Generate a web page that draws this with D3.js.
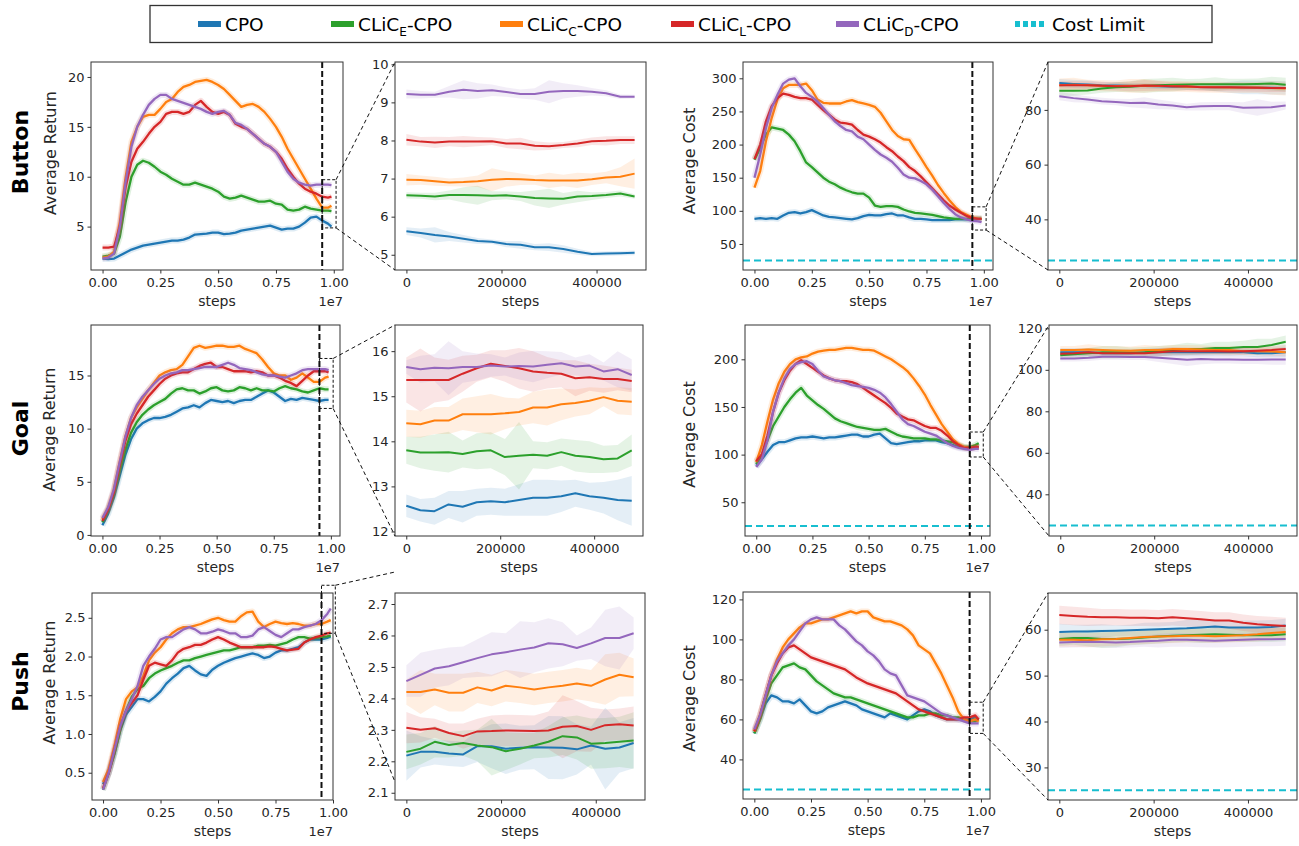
<!DOCTYPE html>
<html>
<head>
<script src="https://cdnjs.cloudflare.com/ajax/libs/d3/7.8.5/d3.min.js"></script>
<style>
  body { margin: 0; background: #fff; }
  text { font-family: "DejaVu Sans", sans-serif; fill: #262626; }
</style>
</head>
<body>
<svg id="chart" width="1299" height="846"></svg>
<script>
// 系列名と色
const seriesNames = ["CPO", "CLiC_E-CPO", "CLiC_C-CPO", "CLiC_L-CPO", "CLiC_D-CPO"];
const seriesColors = ["#1f77b4", "#2ca02c", "#ff7f0e", "#d62728", "#9467bd"];
const limitColor = "#17becf";
const costLimit = 25;

// x 軸 (全体: ×1e7, 拡大: steps)
const mainSteps = [0,0.025,0.05,0.075,0.1,0.125,0.15,0.175,0.2,0.225,0.25,0.275,0.3,0.325,0.35,0.375,0.4,0.425,0.45,0.475,0.5,0.525,0.55,0.575,0.6,0.625,0.65,0.675,0.7,0.725,0.75,0.775,0.8,0.825,0.85,0.875,0.9,0.925,0.95,0.975,0.99];
const zoomSteps = [0,30000,60000,90000,120000,150000,180000,210000,240000,270000,300000,330000,360000,390000,420000,450000,480000];
const mainXTicks = [0, 0.25, 0.5, 0.75, 1.0];
const zoomXTicks = [0, 200000, 400000];

// 順序: CPO, E, C, L, D
const buttonReturnMain = [
  [1.8,1.75,1.8,2.1,2.4,2.7,2.9,3.1,3.2,3.3,3.4,3.5,3.6,3.6,3.7,3.9,4.2,4.25,4.3,4.4,4.4,4.25,4.3,4.4,4.6,4.7,4.8,4.9,5.0,5.1,4.9,4.7,4.8,4.8,5.0,5.4,5.9,6.0,5.6,5.3,5.0],
  [2.0,2.1,2.3,4.0,7.5,10.0,11.2,11.6,11.4,11.0,10.5,10.2,9.8,9.5,9.2,9.2,9.4,9.2,9.0,8.8,8.5,8.0,7.8,7.9,8.1,7.9,7.7,7.5,7.5,7.6,7.3,7.2,6.7,6.6,6.7,7.0,6.8,6.7,6.6,6.6,6.55],
  [1.9,2.0,2.5,5.5,10.0,13.5,15.0,16.0,16.2,16.2,16.8,17.5,17.8,18.5,19.0,19.2,19.5,19.6,19.7,19.5,19.2,18.8,18.2,17.6,17.0,17.2,17.3,17.0,16.5,15.8,15.0,14.0,12.8,11.8,10.8,9.8,8.8,7.8,6.9,6.9,7.1],
  [2.9,2.9,3.0,5.0,9.0,11.5,12.8,13.5,14.3,15.0,15.5,16.3,16.5,16.5,16.3,16.5,17.2,17.6,17.0,16.5,16.3,16.5,16.2,15.3,15.0,14.8,14.3,13.8,13.3,13.0,12.5,11.8,10.8,10.0,9.3,8.8,8.5,8.3,8.0,7.9,8.0],
  [1.8,1.9,2.3,5.0,9.5,13.0,15.0,16.2,17.2,17.8,18.2,18.2,17.8,17.6,17.4,17.2,17.0,16.8,16.5,16.3,16.5,16.6,16.2,15.4,15.2,14.8,14.3,13.8,13.3,13.0,12.5,11.5,10.5,9.8,9.4,9.2,9.1,9.2,9.2,9.2,9.15]
];
const buttonReturnZoom = [
  [5.62,5.57,5.52,5.48,5.42,5.36,5.34,5.28,5.26,5.20,5.20,5.15,5.08,5.02,5.03,5.04,5.05],
  [6.56,6.55,6.53,6.57,6.57,6.56,6.55,6.56,6.53,6.49,6.48,6.47,6.53,6.54,6.57,6.61,6.53],
  [6.97,6.96,6.93,6.90,6.91,6.93,6.97,6.99,6.98,6.96,6.95,6.95,6.95,6.98,7.03,7.05,7.13],
  [8.02,7.97,7.95,7.97,7.97,7.97,7.98,7.92,7.92,7.86,7.85,7.88,7.92,7.98,7.99,8.01,8.01],
  [9.22,9.20,9.20,9.28,9.33,9.30,9.32,9.27,9.22,9.22,9.28,9.30,9.30,9.28,9.24,9.15,9.15]
];
const buttonReturnBand = [
  [0.1,0.12,0.2,0.12,0.1,0.08,0.06,0.08,0.1,0.08,0.1,0.1,0.08,0.06,0.06,0.06,0.06],
  [0.08,0.08,0.1,0.12,0.2,0.25,0.12,0.1,0.12,0.2,0.25,0.15,0.15,0.1,0.08,0.08,0.06],
  [0.15,0.12,0.12,0.1,0.12,0.15,0.3,0.2,0.15,0.12,0.2,0.15,0.2,0.15,0.15,0.25,0.4],
  [0.15,0.12,0.15,0.12,0.15,0.12,0.1,0.12,0.15,0.12,0.1,0.08,0.1,0.1,0.12,0.1,0.1],
  [0.12,0.1,0.08,0.15,0.25,0.2,0.15,0.12,0.12,0.15,0.3,0.2,0.15,0.1,0.08,0.06,0.05]
];
const buttonCostMain = [
  [88,89,88,89,88,93,97,98,96,98,101,97,93,91,90,89,88,87,89,92,94,93,93,95,96,93,93,90,88,88,87,86,86,86,86,87,87,87,87,88,88],
  [177,195,215,226,224,222,215,205,190,173,166,158,150,144,140,135,131,128,126,126,120,108,106,107,107,106,102,99,97,96,95,94,92,90,89,88,88,88,88,88,88],
  [135,160,205,240,268,285,290,290,290,292,282,268,263,262,262,262,265,267,264,262,260,257,248,235,222,213,208,207,193,180,166,153,139,127,116,106,98,94,90,88,88],
  [178,200,235,258,270,277,275,272,270,270,268,260,252,245,238,233,232,230,222,215,212,208,203,196,190,182,175,166,160,152,143,134,125,116,108,102,97,92,89,88,88],
  [150,185,225,255,275,292,298,300,288,278,272,265,255,245,235,228,222,220,212,208,200,192,185,180,174,165,155,150,149,145,140,132,122,112,103,95,90,87,85,84,83]
];
const buttonCostZoom = [
  [89.8,89.5,89.3,89.0,88.9,88.8,88.7,88.6,88.5,88.4,88.4,88.3,88.3,88.2,88.2,88.1,88.0],
  [87.0,87.0,87.1,87.8,88.3,88.5,88.8,89.0,89.2,89.3,89.4,89.4,89.4,89.4,89.5,89.6,89.2],
  [89.0,89.2,89.0,88.8,88.7,88.8,88.8,88.7,88.6,88.5,88.4,88.3,88.2,88.2,88.2,88.0,87.8],
  [89.0,89.0,89.0,88.8,88.6,88.6,88.9,88.8,88.6,88.6,88.3,88.3,88.3,88.2,88.1,88.0,88.0],
  [85.0,84.3,83.8,83.2,82.9,82.5,82.6,82.0,81.6,81.0,81.3,81.4,81.4,80.8,80.9,81.0,81.6]
];
const buttonCostBand = [
  [1.5,1.5,1.5,1.2,1.2,1,1,1,1,1,1.2,1.5,2,2.5,2.5,2.5,2.5],
  [2,1.8,1.5,1.5,1.8,2,2.5,2.5,2.5,2,2,2.5,2,2,2,2.5,2.5],
  [2.5,2.5,2,2,2,2.5,2.5,2,2,2,2,2,2,2,2,2.5,2.5],
  [1.5,1.5,1.5,1.5,1.5,1.8,2,1.8,1.5,1.5,1.5,1.5,1.5,1.5,1.5,1.5,1.5],
  [1.5,1.5,1.2,1.2,1.2,1.5,2,1.8,1.5,1.2,1.5,1.5,1.5,2,3,2,1.5]
];
const goalReturnMain = [
  [0.9,2.0,3.5,5.5,7.5,9.0,10.0,10.5,10.8,11.0,11.0,11.1,11.3,11.6,11.9,12.0,12.2,12.0,12.4,12.7,12.6,12.5,12.6,12.4,12.6,12.7,12.7,13.0,13.3,13.6,13.4,13.0,12.6,12.8,12.7,12.9,12.8,12.7,12.6,12.7,12.7],
  [1.2,2.3,3.8,6.0,8.0,9.6,10.6,11.3,11.8,12.2,12.5,12.8,13.3,13.7,13.8,13.6,13.6,13.3,13.5,13.8,13.9,13.6,13.5,13.6,13.9,13.8,13.6,13.8,13.6,13.6,13.5,13.8,14.0,13.8,13.7,13.5,13.4,13.6,13.8,13.7,13.7],
  [1.5,2.5,4.2,6.8,9.2,11.0,12.0,12.8,13.6,14.3,15.0,15.3,15.5,15.6,16.0,16.8,17.6,17.8,17.6,17.7,17.8,17.8,17.7,17.7,17.8,17.5,17.3,17.1,16.5,15.8,15.2,15.0,15.0,14.6,14.8,15.2,14.8,14.4,14.4,14.8,14.9],
  [1.3,2.4,4.0,6.5,8.8,10.4,11.4,12.2,13.0,13.6,14.2,14.7,15.0,15.2,15.3,15.3,15.6,15.9,16.1,16.2,15.8,15.8,15.6,15.4,15.4,15.4,15.3,15.4,15.3,15.0,15.0,14.8,14.5,14.3,14.0,14.5,15.0,15.4,15.4,15.4,15.3],
  [1.6,2.6,4.3,6.8,9.2,11.0,12.2,13.0,13.6,14.2,14.7,15.0,15.2,15.3,15.5,15.5,15.6,15.7,15.8,15.8,15.8,16.0,16.2,16.0,15.7,15.6,15.5,15.3,15.1,15.0,15.0,14.9,14.8,15.0,15.2,15.5,15.6,15.6,15.6,15.6,15.5]
];
const goalReturnZoom = [
  [12.57,12.47,12.45,12.60,12.55,12.65,12.67,12.65,12.70,12.75,12.75,12.78,12.85,12.78,12.75,12.70,12.68],
  [13.80,13.75,13.75,13.76,13.72,13.78,13.80,13.65,13.68,13.70,13.68,13.76,13.68,13.65,13.60,13.62,13.80],
  [14.40,14.38,14.46,14.46,14.60,14.60,14.60,14.62,14.65,14.75,14.75,14.82,14.85,14.90,14.98,14.90,14.88],
  [15.36,15.36,15.36,15.36,15.50,15.62,15.72,15.67,15.62,15.55,15.52,15.50,15.40,15.42,15.38,15.38,15.34],
  [15.65,15.60,15.63,15.62,15.65,15.65,15.68,15.66,15.67,15.66,15.70,15.73,15.66,15.68,15.55,15.60,15.47]
];
const goalReturnBand = [
  [0.25,0.25,0.3,0.3,0.35,0.3,0.3,0.3,0.35,0.4,0.4,0.35,0.3,0.3,0.35,0.45,0.55],
  [0.3,0.35,0.4,0.45,0.3,0.4,0.4,0.4,0.75,0.3,0.3,0.3,0.35,0.35,0.3,0.3,0.35],
  [0.3,0.3,0.3,0.3,0.35,0.4,0.45,0.35,0.3,0.35,0.4,0.35,0.3,0.3,0.2,0.3,0.3],
  [0.5,0.7,0.5,0.45,0.4,0.3,0.3,0.35,0.45,0.45,0.35,0.3,0.4,0.3,0.3,0.25,0.25],
  [0.15,0.3,0.3,0.6,0.35,0.3,0.25,0.2,0.3,0.35,0.3,0.25,0.2,0.25,0.2,0.4,0.35]
];
const goalCostMain = [
  [88,95,103,110,113,113,115,117,118,118,119,118,117,118,118,119,120,121,121,119,119,121,122,117,112,111,112,113,114,114,115,115,115,113,112,110,108,107,107,108,108],
  [90,100,115,130,140,150,158,165,170,162,157,152,148,143,138,135,133,131,129,128,127,126,126,127,124,121,119,118,117,117,117,116,116,115,114,113,110,108,108,110,112],
  [92,110,135,158,175,187,195,200,202,203,206,208,209,210,210,211,212,212,211,210,210,209,206,203,200,196,192,187,180,172,163,152,142,132,124,116,111,108,107,108,108],
  [93,100,120,145,165,178,188,195,199,195,191,187,183,180,178,177,177,176,174,170,166,162,158,154,149,143,140,137,136,133,130,128,128,125,120,114,110,107,107,108,108],
  [87,95,115,145,165,180,190,195,197,198,195,188,182,180,178,177,175,173,172,171,170,168,165,160,153,145,137,132,130,127,124,122,120,116,112,109,107,106,105,106,106]
];
const goalCostZoom = [
  [108.5,108.5,108.5,108,108,108,108.3,108.5,108.5,108.5,108.5,108.5,108.5,108.5,108,108,108.5],
  [107,107.5,108,108.5,108.5,108.3,108.5,109,109.5,110,110,110.5,110.5,111,111,112,113.5],
  [109.5,109.5,109.8,109.5,109.3,109.2,109.5,109.5,110,110,109.8,109.5,109.5,109,109,108.8,108.5],
  [107.8,108,108.5,108,108,108,108,108.5,109,109,109,109,108.8,109,109.2,109.5,110],
  [105.5,105.5,105.8,106.3,106.3,106.2,106.2,105.8,105.3,104.8,105.2,105,105,104.8,104.8,105,105]
];
const goalCostBand = [
  [2,2,2,2,2,1.8,1.8,2,2,2,2,2,2,2,2,2,2.5],
  [2,2,2.5,3,3,2.5,2.5,2.5,2.5,3,2.5,3,3,3,4,3,3],
  [2,2,2.5,2,2,2,2.5,2,2,2,2,2,2,2,2,2,2],
  [1.5,1.5,1.8,1.5,1.5,1.8,1.8,2,2,1.8,1.8,1.8,1.8,1.8,1.8,1.8,2],
  [1.5,1.5,1.5,1.5,1.5,1.5,1.5,2,2.5,3,2.5,2,2,2,2,2.5,2.5]
];
const pushReturnMain = [
  [0.35,0.5,0.75,1.05,1.25,1.35,1.45,1.45,1.42,1.48,1.55,1.65,1.72,1.78,1.85,1.88,1.82,1.77,1.75,1.83,1.88,1.92,1.95,1.98,2.0,2.02,2.04,2.02,1.98,2.0,2.05,2.08,2.08,2.1,2.12,2.18,2.22,2.22,2.22,2.24,2.26],
  [0.28,0.5,0.75,1.05,1.3,1.48,1.58,1.62,1.72,1.78,1.82,1.85,1.88,1.92,1.95,1.95,1.98,2.0,2.02,2.04,2.06,2.08,2.08,2.1,2.12,2.12,2.12,2.14,2.14,2.15,2.14,2.16,2.18,2.22,2.25,2.25,2.23,2.24,2.25,2.26,2.27],
  [0.38,0.55,0.85,1.2,1.45,1.55,1.6,1.75,1.95,2.05,2.12,2.22,2.3,2.35,2.38,2.38,2.4,2.42,2.45,2.48,2.5,2.47,2.45,2.45,2.52,2.57,2.58,2.45,2.38,2.42,2.45,2.43,2.42,2.43,2.42,2.4,2.4,2.42,2.42,2.45,2.47],
  [0.3,0.5,0.8,1.1,1.3,1.4,1.5,1.7,1.88,1.92,1.9,1.88,1.95,2.05,2.1,2.12,2.15,2.15,2.18,2.22,2.25,2.22,2.18,2.15,2.12,2.12,2.12,2.12,2.12,2.13,2.12,2.1,2.08,2.09,2.1,2.18,2.22,2.25,2.27,2.3,2.31],
  [0.28,0.5,0.8,1.1,1.3,1.45,1.62,1.88,2.0,2.1,2.22,2.25,2.25,2.3,2.35,2.38,2.35,2.3,2.3,2.32,2.35,2.33,2.3,2.3,2.25,2.25,2.27,2.35,2.38,2.33,2.28,2.25,2.3,2.35,2.35,2.38,2.4,2.42,2.47,2.55,2.62]
];
const pushReturnZoom = [
  [2.218,2.23,2.23,2.225,2.222,2.248,2.248,2.24,2.243,2.245,2.244,2.243,2.238,2.25,2.24,2.244,2.258],
  [2.23,2.24,2.262,2.252,2.258,2.25,2.245,2.232,2.24,2.25,2.262,2.28,2.276,2.256,2.258,2.262,2.266],
  [2.42,2.42,2.428,2.418,2.418,2.435,2.425,2.44,2.435,2.428,2.435,2.44,2.447,2.44,2.46,2.475,2.467],
  [2.307,2.3,2.305,2.29,2.28,2.295,2.296,2.298,2.297,2.296,2.298,2.31,2.312,2.3,2.315,2.318,2.314],
  [2.455,2.475,2.495,2.502,2.515,2.528,2.54,2.547,2.555,2.562,2.575,2.572,2.56,2.575,2.592,2.592,2.607]
];
const pushReturnBand = [
  [0.08,0.05,0.04,0.04,0.04,0.05,0.07,0.08,0.07,0.07,0.1,0.1,0.08,0.06,0.13,0.08,0.08],
  [0.055,0.05,0.05,0.04,0.04,0.05,0.09,0.06,0.05,0.04,0.05,0.06,0.07,0.08,0.08,0.08,0.09],
  [0.04,0.07,0.05,0.06,0.06,0.05,0.05,0.05,0.05,0.05,0.05,0.05,0.05,0.05,0.08,0.07,0.06],
  [0.05,0.04,0.03,0.03,0.04,0.04,0.05,0.05,0.05,0.05,0.06,0.1,0.08,0.07,0.05,0.05,0.06],
  [0.05,0.07,0.06,0.06,0.05,0.06,0.07,0.06,0.09,0.08,0.08,0.07,0.04,0.05,0.09,0.1,0.05]
];
const pushCostMain = [
  [53,60,68,72,71,69,69,68,70,67,64,63,64,66,67,68,69,68,67,65,64,63,62,61,63,62,61,60,62,64,65,64,62,61,60,60,60,60,60,61,60],
  [53,60,70,78,82,86,87,88,86,85,82,79,77,75,73,72,71,71,70,69,68,67,66,65,64,63,62,61,61,62,62,63,63,62,62,61,61,60,59,59,60],
  [54,62,72,82,90,96,100,103,106,108,108,109,110,110,111,112,113,114,113,114,114,111,110,109,109,108,107,105,102,97,95,93,88,83,77,71,64,60,59,60,59],
  [54,62,72,82,88,93,96,97,95,93,91,90,89,88,87,86,85,83,81,79.5,78,77,76,75,74,73,71,69,67,65,64,63,62,61,60,60,60,61,61,62,60],
  [55,62,72,82,89,93,97,100,104,108,110,111,110,110,110,107,105,102,99,97,94,92,89,85,83,82,77,72,71,70,69,67,65,63,62,61,60,59,58,58,58]
];
const pushCostZoom = [
  [59.5,59.6,59.6,59.7,59.8,59.9,60.0,60.1,60.2,60.3,60.5,60.7,60.5,60.5,60.5,60.6,60.9],
  [58.0,58.2,58.2,58.0,58.0,58.1,58.3,58.5,58.7,58.8,58.9,59.0,58.9,58.8,58.8,58.8,59.0],
  [57.8,57.8,57.7,57.9,58.0,58.2,58.4,58.5,58.6,58.7,58.7,58.6,58.7,58.8,59.0,59.3,59.5],
  [63.2,63.0,62.8,62.7,62.7,62.6,62.6,62.5,62.7,62.5,62.3,62.0,62.0,61.5,61.2,61.0,60.8],
  [57.2,57.3,57.4,57.3,57.2,57.3,57.5,57.6,57.8,57.8,57.7,57.6,57.7,57.8,57.9,57.9,58.0]
];
const pushCostBand = [
  [1.8,1.5,1.5,1.5,1.2,1.2,1.5,1.5,1.5,1.8,1.8,1.5,1.5,1.5,1.5,1.5,1.5],
  [1.5,1.5,1.8,2,1.8,1.5,1.5,1.5,1.5,1.5,1.8,1.8,1.5,1.5,1.5,1.5,1.5],
  [1.5,1.5,1.5,1.5,1.5,1.5,1.5,1.5,1.5,1.5,1.5,1.5,1.5,1.5,1.5,1.5,1.5],
  [2,2,2,1.8,1.8,1.8,1.8,1.8,1.8,1.8,1.8,1.8,1.8,1.8,1.8,1.8,1.8],
  [1.2,1.2,1.2,1.2,1.2,1.2,1.2,1.5,1.5,1.5,1.5,1.5,1.5,1.5,1.5,1.5,1.5]
];

const rowNames = ["Button", "Goal", "Push"];

// パネル配置 [left, top, right, bottom]
const panels = [
  { values: buttonReturnMain, box: [91, 62, 343, 270], xd: [-0.05, 1.04], yd: [0.65, 21.5], yt: [5, 10, 15, 20], fmt: "d", label: "Average Return", lx: 35, ldy: -13, rect: [4.87, 9.7] },
  { values: buttonReturnZoom, band: buttonReturnBand, box: [395, 62, 646, 270], yd: [4.6, 10.06], yt: [5, 6, 7, 8, 9, 10], fmt: "d" },
  { values: buttonCostMain, cost: true, box: [743, 62, 993, 270], xd: [-0.05, 1.04], yd: [10.7, 324.6], yt: [50, 100, 150, 200, 250, 300], fmt: "d", label: "Average Cost", lx: 48, ldy: -5, rect: [71, 106] },
  { values: buttonCostZoom, band: buttonCostBand, cost: true, box: [1048, 62, 1297, 270], yd: [21.5, 97.5], yt: [40, 60, 80], fmt: "d" },
  { values: goalReturnMain, box: [91, 325, 340, 536], xd: [-0.05, 1.04], yd: [-0.1, 19.75], yt: [0, 5, 10, 15], fmt: "d", label: "Average Return", lx: 36, ldy: -1, rect: [11.9, 16.6] },
  { values: goalReturnZoom, band: goalReturnBand, box: [395, 325, 643, 536], yd: [11.9, 16.58], yt: [12, 13, 14, 15, 16], fmt: "d" },
  { values: goalCostMain, cost: true, box: [745, 325, 990, 536], xd: [-0.05, 1.04], yd: [14.6, 236], yt: [50, 100, 150, 200], fmt: "d", label: "Average Cost", lx: 50, ldy: 4, rect: [97.5, 123.7] },
  { values: goalCostZoom, band: goalCostBand, cost: true, box: [1049, 325, 1297, 536], yd: [19.9, 121.6], yt: [40, 60, 80, 100, 120], fmt: "d" },
  { values: pushReturnMain, box: [92, 593, 333, 800], xd: [-0.048, 1.0], yd: [0.148, 2.82], yt: [0.5, 1.0, 1.5, 2.0, 2.5], fmt: ".1f", label: "Average Return", lx: 37, ldy: -14, rect: [2.3, 2.92], cdy: [-21, -18] },
  { values: pushReturnZoom, band: pushReturnBand, box: [395, 593, 645, 800], yd: [2.077, 2.735], yt: [2.1, 2.2, 2.3, 2.4, 2.5, 2.6, 2.7], fmt: ".1f" },
  { values: pushCostMain, cost: true, box: [743, 592, 990, 799], xd: [-0.05, 1.04], yd: [20.2, 123.7], yt: [40, 60, 80, 100, 120], fmt: "d", label: "Average Cost", lx: 48, ldy: 3, rect: [53, 68.6] },
  { values: pushCostZoom, band: pushCostBand, cost: true, box: [1048, 593, 1297, 800], yd: [22.9, 68], yt: [30, 40, 50, 60], fmt: "d" }
];

const svg = d3.select("#chart");
const defs = svg.append("defs");
const overlay = [];

panels.forEach((p, i) => {
  const [l, t, r, b] = p.box;
  const zoom = !!p.band;
  const xs = zoom ? zoomSteps : mainSteps;
  const x = d3.scaleLinear().domain(zoom ? [-24000, 504000] : p.xd).range([l, r]);
  const y = d3.scaleLinear().domain(p.yd).range([b, t]);
  p.x = x; p.y = y;

  defs.append("clipPath").attr("id", "clip" + i)
    .append("rect").attr("x", l).attr("y", t).attr("width", r - l).attr("height", b - t);
  const plot = svg.append("g").attr("clip-path", `url(#clip${i})`);

  // 帯 (拡大図)
  if (zoom) {
    p.values.forEach((vals, k) => {
      const area = d3.area()
        .x((d, j) => x(xs[j]))
        .y0((d, j) => y(d - p.band[k][j]))
        .y1((d, j) => y(d + p.band[k][j]));
      plot.append("path").datum(vals).attr("d", area)
        .attr("fill", seriesColors[k]).attr("fill-opacity", 0.12);
    });
  }

  // 線
  const line = d3.line().x((d, j) => x(xs[j])).y((d) => y(d));
  p.values.forEach((vals, k) => {
    if (!zoom) {
      plot.append("path").datum(vals).attr("d", line)
        .attr("fill", "none").attr("stroke", seriesColors[k])
        .attr("stroke-width", 6).attr("stroke-opacity", 0.15).attr("stroke-linejoin", "round");
    }
    plot.append("path").datum(vals).attr("d", line)
      .attr("fill", "none").attr("stroke", seriesColors[k])
      .attr("stroke-width", zoom ? 2 : 2.3).attr("stroke-linejoin", "round");
  });

  // コスト制限
  if (p.cost) {
    plot.append("line").attr("x1", l).attr("x2", r)
      .attr("y1", y(costLimit)).attr("y2", y(costLimit))
      .attr("stroke", limitColor).attr("stroke-width", 2).attr("stroke-dasharray", "7,4");
  }

  // 0.95e7 の縦線
  if (!zoom) {
    plot.append("line").attr("x1", x(0.95)).attr("x2", x(0.95)).attr("y1", t).attr("y2", b)
      .attr("stroke", "#111").attr("stroke-width", 2).attr("stroke-dasharray", "6,3");
  }

  // 枠
  svg.append("rect").attr("x", l).attr("y", t).attr("width", r - l).attr("height", b - t)
    .attr("fill", "none").attr("stroke", "#333").attr("stroke-width", 1);

  // 軸
  const xAxis = d3.axisBottom(x).tickValues(zoom ? zoomXTicks : mainXTicks)
    .tickFormat(zoom ? d3.format("d") : d3.format(".2f")).tickSize(3.5).tickPadding(4);
  const gx = svg.append("g").attr("transform", `translate(0,${b})`).call(xAxis);
  const yAxis = d3.axisLeft(y).tickValues(p.yt).tickFormat(d3.format(p.fmt)).tickSize(3.5).tickPadding(3);
  const gy = svg.append("g").attr("transform", `translate(${l},0)`).call(yAxis);
  [gx, gy].forEach((g) => {
    g.select(".domain").remove();
    g.selectAll(".tick line").attr("stroke", "#333");
    g.selectAll(".tick text").attr("font-size", 13).attr("font-family", "DejaVu Sans").attr("fill", "#262626");
  });

  svg.append("text").attr("x", (l + r) / 2).attr("y", b + 36).attr("text-anchor", "middle")
    .attr("font-size", 14).text("steps");
  if (!zoom) {
    svg.append("text").attr("x", r).attr("y", b + 36).attr("text-anchor", "end")
      .attr("font-size", 13).text("1e7");
    svg.append("text")
      .attr("transform", `translate(${l - p.lx},${(t + b) / 2 + p.ldy}) rotate(-90)`)
      .attr("text-anchor", "middle").attr("font-size", 16).text(p.label);
    overlay.push({ main: p, zoomPanel: panels[i + 1] });
  }
});

// 拡大範囲の枠と接続線
overlay.forEach(({ main, zoomPanel }) => {
  const x0 = main.x(0.95), x1 = main.x(1.01);
  const y0 = main.y(main.rect[1]), y1 = main.y(main.rect[0]);
  svg.append("rect").attr("x", x0).attr("y", y0).attr("width", x1 - x0).attr("height", y1 - y0)
    .attr("fill", "none").attr("stroke", "#111").attr("stroke-width", 1).attr("stroke-dasharray", "3,2");
  const [zl, zt, , zb] = zoomPanel.box;
  const cdy = main.cdy || [0, 0];
  svg.append("line").attr("x1", x1).attr("y1", y0).attr("x2", zl).attr("y2", zt + cdy[0])
    .attr("stroke", "#111").attr("stroke-width", 1).attr("stroke-dasharray", "4,3");
  svg.append("line").attr("x1", x1).attr("y1", y1).attr("x2", zl).attr("y2", zb + cdy[1])
    .attr("stroke", "#111").attr("stroke-width", 1).attr("stroke-dasharray", "4,3");
});

// 行ラベル
rowNames.forEach((name, r) => {
  const p = panels[r * 4];
  svg.append("text")
    .attr("transform", `translate(28,${(p.box[1] + p.box[3]) / 2 + p.ldy - 1}) rotate(-90)`)
    .attr("text-anchor", "middle").attr("font-family", "Lato").attr("font-weight", "bold")
    .attr("font-size", 22).style("fill", "#000").text(name);
});

// 凡例
const legend = svg.append("g");
legend.append("rect").attr("x", 150).attr("y", 5.5).attr("width", 1062).attr("height", 37)
  .attr("fill", "#fff").attr("stroke", "#333").attr("stroke-width", 1.3);
const legendX = [198, 331, 500, 671, 836, 1015];
const legendItems = seriesNames.map((n, k) => ({ name: n, color: seriesColors[k] }))
  .concat([{ name: "Cost Limit", color: limitColor, dotted: true }]);
legendItems.forEach((it, k) => {
  const lx = legendX[k];
  if (it.dotted) {
    legend.append("line").attr("x1", lx).attr("x2", lx + 31).attr("y1", 24).attr("y2", 24)
      .attr("stroke", it.color).attr("stroke-width", 6).attr("stroke-dasharray", "5,3");
  } else {
    legend.append("rect").attr("x", lx).attr("y", 21).attr("width", 23).attr("height", 6)
      .attr("fill", it.color);
  }
  const tx = legend.append("text").attr("x", lx + (it.dotted ? 37 : 27)).attr("y", 31)
    .attr("font-family", "Lato").attr("font-size", 18.5).style("fill", "#000");
  const m = it.name.match(/^CLiC_(\w)(-CPO)$/);
  if (m) {
    tx.append("tspan").text("CLiC");
    tx.append("tspan").attr("dy", 5).attr("font-size", 12).text(m[1]);
    tx.append("tspan").attr("dy", -5).text(m[2]);
  } else {
    tx.text(it.name);
  }
});
</script>
</body>
</html>
